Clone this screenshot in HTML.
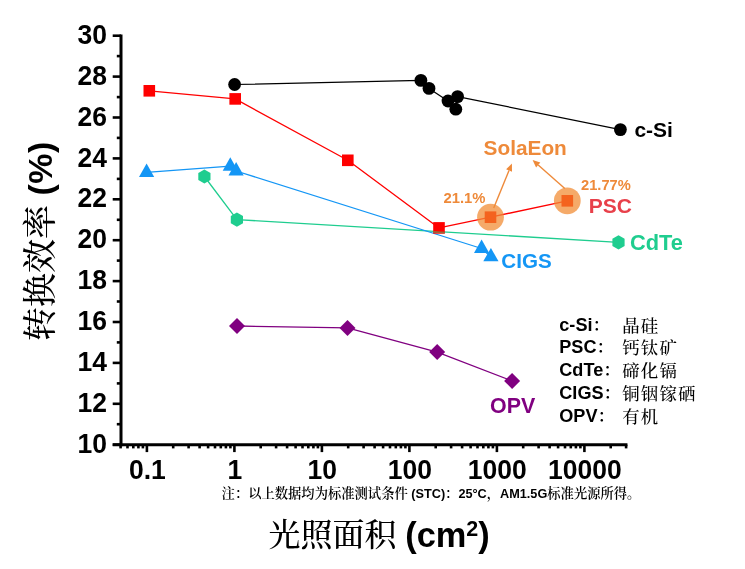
<!DOCTYPE html>
<html lang="zh"><head><meta charset="utf-8"><title>转换效率 - 光照面积</title>
<style>
html,body{margin:0;padding:0;background:#fff;}
body{width:745px;height:569px;overflow:hidden;position:relative;}
svg{position:absolute;left:0;top:0;display:block;}
text{font-family:"Liberation Sans","Noto Serif CJK SC",sans-serif;font-weight:bold;}
.cj{font-family:"Noto Serif CJK SC","Liberation Serif",serif;font-weight:400;}
.cjb{font-family:"Noto Serif CJK SC","Liberation Serif",serif;font-weight:600;}
.cjm{font-family:"Noto Serif CJK SC","Liberation Serif",serif;font-weight:500;}
.tk{font-size:26.5px;fill:#000;}
</style></head><body>
<svg width="745" height="569" viewBox="0 0 745 569">
<rect width="745" height="569" fill="#fff"/>

<g stroke="#000" stroke-width="3.0" fill="none" stroke-linecap="butt">
<path d="M121.0 34.400000000000006 V446.2"/>
<path d="M112.7 444.7 H627.4481097879705"/>
</g>
<g stroke="#000" stroke-width="2.6" fill="none">
<path d="M112.7 444.7 H121.0"/>
<path d="M116.8 424.2 H121.0"/>
<path d="M112.7 403.8 H121.0"/>
<path d="M116.8 383.4 H121.0"/>
<path d="M112.7 362.9 H121.0"/>
<path d="M116.8 342.4 H121.0"/>
<path d="M112.7 322.0 H121.0"/>
<path d="M116.8 301.5 H121.0"/>
<path d="M112.7 281.1 H121.0"/>
<path d="M116.8 260.6 H121.0"/>
<path d="M112.7 240.2 H121.0"/>
<path d="M116.8 219.8 H121.0"/>
<path d="M112.7 199.3 H121.0"/>
<path d="M116.8 178.9 H121.0"/>
<path d="M112.7 158.4 H121.0"/>
<path d="M116.8 137.9 H121.0"/>
<path d="M112.7 117.5 H121.0"/>
<path d="M116.8 97.1 H121.0"/>
<path d="M112.7 76.6 H121.0"/>
<path d="M116.8 56.1 H121.0"/>
<path d="M112.7 35.7 H121.0"/>
<path d="M120.6 444.7 V448.4"/>
<path d="M127.5 444.7 V448.4"/>
<path d="M133.3 444.7 V448.4"/>
<path d="M138.4 444.7 V448.4"/>
<path d="M142.9 444.7 V448.4"/>
<path d="M146.9 444.7 V452.1"/>
<path d="M173.2 444.7 V448.4"/>
<path d="M188.6 444.7 V448.4"/>
<path d="M199.6 444.7 V448.4"/>
<path d="M208.1 444.7 V448.4"/>
<path d="M215.0 444.7 V448.4"/>
<path d="M220.8 444.7 V448.4"/>
<path d="M225.9 444.7 V448.4"/>
<path d="M230.4 444.7 V448.4"/>
<path d="M234.4 444.7 V452.1"/>
<path d="M260.7 444.7 V448.4"/>
<path d="M276.1 444.7 V448.4"/>
<path d="M287.1 444.7 V448.4"/>
<path d="M295.6 444.7 V448.4"/>
<path d="M302.5 444.7 V448.4"/>
<path d="M308.3 444.7 V448.4"/>
<path d="M313.4 444.7 V448.4"/>
<path d="M317.9 444.7 V448.4"/>
<path d="M321.9 444.7 V452.1"/>
<path d="M348.2 444.7 V448.4"/>
<path d="M363.6 444.7 V448.4"/>
<path d="M374.6 444.7 V448.4"/>
<path d="M383.1 444.7 V448.4"/>
<path d="M390.0 444.7 V448.4"/>
<path d="M395.8 444.7 V448.4"/>
<path d="M400.9 444.7 V448.4"/>
<path d="M405.4 444.7 V448.4"/>
<path d="M409.4 444.7 V452.1"/>
<path d="M435.7 444.7 V448.4"/>
<path d="M451.1 444.7 V448.4"/>
<path d="M462.1 444.7 V448.4"/>
<path d="M470.6 444.7 V448.4"/>
<path d="M477.5 444.7 V448.4"/>
<path d="M483.3 444.7 V448.4"/>
<path d="M488.4 444.7 V448.4"/>
<path d="M492.9 444.7 V448.4"/>
<path d="M496.9 444.7 V452.1"/>
<path d="M523.2 444.7 V448.4"/>
<path d="M538.6 444.7 V448.4"/>
<path d="M549.6 444.7 V448.4"/>
<path d="M558.1 444.7 V448.4"/>
<path d="M565.0 444.7 V448.4"/>
<path d="M570.8 444.7 V448.4"/>
<path d="M575.9 444.7 V448.4"/>
<path d="M580.4 444.7 V448.4"/>
<path d="M584.4 444.7 V452.1"/>
<path d="M610.7 444.7 V448.4"/>
<path d="M626.1 444.7 V448.4"/>
</g>
<g class="tk" text-anchor="end">
<text class="tk" transform="translate(106.9 452.8) scale(1 1.075)">10</text>
<text class="tk" transform="translate(106.9 411.9) scale(1 1.075)">12</text>
<text class="tk" transform="translate(106.9 371.0) scale(1 1.075)">14</text>
<text class="tk" transform="translate(106.9 330.1) scale(1 1.075)">16</text>
<text class="tk" transform="translate(106.9 289.2) scale(1 1.075)">18</text>
<text class="tk" transform="translate(106.9 248.3) scale(1 1.075)">20</text>
<text class="tk" transform="translate(106.9 207.4) scale(1 1.075)">22</text>
<text class="tk" transform="translate(106.9 166.5) scale(1 1.075)">24</text>
<text class="tk" transform="translate(106.9 125.6) scale(1 1.075)">26</text>
<text class="tk" transform="translate(106.9 84.7) scale(1 1.075)">28</text>
<text class="tk" transform="translate(106.9 43.8) scale(1 1.075)">30</text>
</g>
<g class="tk" text-anchor="middle">
<text class="tk" transform="translate(147.3 479.1) scale(1 1.075)">0.1</text>
<text class="tk" transform="translate(234.8 479.1) scale(1 1.075)">1</text>
<text class="tk" transform="translate(322.3 479.1) scale(1 1.075)">10</text>
<text class="tk" transform="translate(409.8 479.1) scale(1 1.075)">100</text>
<text class="tk" transform="translate(497.3 479.1) scale(1 1.075)">1000</text>
<text class="tk" transform="translate(584.8 479.1) scale(1 1.075)">10000</text>
</g>
<path d="M204.4 176.5 L236.9 219.6 L618.5 242.3" stroke="#1fcd8f" stroke-width="1.3" fill="none" stroke-linejoin="round"/>
<polygon points="204.4,169.4 198.3,172.9 198.3,180.1 204.4,183.6 210.5,180.1 210.5,172.9" fill="#1fcd8f"/>
<polygon points="236.9,212.5 230.8,216.0 230.8,223.2 236.9,226.7 243.0,223.2 243.0,216.0" fill="#1fcd8f"/>
<polygon points="618.5,235.2 612.4,238.8 612.4,245.9 618.5,249.4 624.6,245.9 624.6,238.8" fill="#1fcd8f"/>
<path d="M146.6 172.4 L230.3 166.2 L236.1 171.0 L481.6 248.5 L490.9 256.8" stroke="#1496f5" stroke-width="1.3" fill="none" stroke-linejoin="round"/>
<polygon points="146.6,163.5 139.0,176.9 154.2,176.9" fill="#1496f5"/>
<polygon points="230.3,157.3 222.7,170.7 237.9,170.7" fill="#1496f5"/>
<polygon points="236.1,162.1 228.5,175.5 243.7,175.5" fill="#1496f5"/>
<polygon points="481.6,239.6 474.0,253.0 489.2,253.0" fill="#1496f5"/>
<polygon points="490.9,247.9 483.3,261.3 498.5,261.3" fill="#1496f5"/>
<path d="M237.0 326.0 L347.5 327.9 L437.2 352.1 L512.1 380.9" stroke="#800080" stroke-width="1.3" fill="none" stroke-linejoin="round"/>
<polygon points="237.0,318.0 245.0,326.0 237.0,334.0 229.0,326.0" fill="#800080"/>
<polygon points="347.5,319.9 355.5,327.9 347.5,335.9 339.5,327.9" fill="#800080"/>
<polygon points="437.2,344.1 445.2,352.1 437.2,360.1 429.2,352.1" fill="#800080"/>
<polygon points="512.1,372.9 520.1,380.9 512.1,388.9 504.1,380.9" fill="#800080"/>
<path d="M234.6 84.5 L420.9 80.4 L429.0 88.4 L448.0 101.0 L455.8 109.2 L457.6 96.6 L620.4 129.6" stroke="#000" stroke-width="1.25" fill="none" stroke-linejoin="round"/>
<circle cx="234.6" cy="84.5" r="6.4" fill="#000"/>
<circle cx="420.9" cy="80.4" r="6.4" fill="#000"/>
<circle cx="429" cy="88.4" r="6.4" fill="#000"/>
<circle cx="448" cy="101" r="6.4" fill="#000"/>
<circle cx="455.8" cy="109.2" r="6.4" fill="#000"/>
<circle cx="457.6" cy="96.6" r="6.4" fill="#000"/>
<circle cx="620.4" cy="129.6" r="6.4" fill="#000"/>
<path d="M149.3 90.8 L235.2 98.9 L347.8 160.3 L439.0 227.9 L490.5 217.2 L567.3 200.8" stroke="#ff0000" stroke-width="1.3" fill="none" stroke-linejoin="round"/>
<circle cx="490.5" cy="217.2" r="13.4" fill="#f28e37" fill-opacity="0.75"/>
<circle cx="567.3" cy="200.8" r="13.4" fill="#f28e37" fill-opacity="0.75"/>
<rect x="143.5" y="85.0" width="11.6" height="11.6" fill="#ff0000"/>
<rect x="229.4" y="93.1" width="11.6" height="11.6" fill="#ff0000"/>
<rect x="342.0" y="154.5" width="11.6" height="11.6" fill="#ff0000"/>
<rect x="433.2" y="222.1" width="11.6" height="11.6" fill="#ff0000"/>
<rect x="484.7" y="211.4" width="11.6" height="11.6" fill="#f4631e"/>
<rect x="561.5" y="195.0" width="11.6" height="11.6" fill="#f4631e"/>
<path d="M493.7 207.9 L509.0 170.5" stroke="#ee8a3a" stroke-width="1.4" fill="none"/>
<polygon points="511.9,163.6 512.0,171.8 506.1,169.3" fill="#ee8a3a"/>
<path d="M564.8 188.5 L538.2 165.0" stroke="#ee8a3a" stroke-width="1.4" fill="none"/>
<polygon points="532.6,160.0 540.3,162.6 536.1,167.4" fill="#ee8a3a"/>
<text x="634.4" y="137.3" font-size="21" fill="#000">c-Si</text>
<text x="483.6" y="154.7" font-size="20.8" fill="#ee8a3a">SolaEon</text>
<text x="443.5" y="203" font-size="14.8" fill="#ee8a3a">21.1%</text>
<text x="581" y="189.6" font-size="14.7" fill="#ee8a3a">21.77%</text>
<text x="588.8" y="212.6" font-size="21" fill="#e8404a">PSC</text>
<text x="630.0" y="249.6" font-size="21.8" fill="#1fcd8f">CdTe</text>
<text x="501.3" y="268.3" font-size="20.6" fill="#1496f5">CIGS</text>
<text x="490.0" y="413.1" font-size="21.4" fill="#800080">OPV</text>
<path d="M433.2 231.9 L444.8 232.6" stroke="#9a6a3a" stroke-width="1.8" fill="none"/>
<text x="559.3" y="330.7" font-size="18.1" fill="#000">c-Si<tspan class="cjb" font-size="17">：</tspan></text>
<text class="cjm" x="622.3" y="331.7" font-size="17.4" letter-spacing="1.15" fill="#000">晶硅</text>
<text x="559.3" y="352.9" font-size="18.1" fill="#000">PSC<tspan class="cjb" font-size="17">：</tspan></text>
<text class="cjm" x="622.3" y="353.9" font-size="17.4" letter-spacing="1.15" fill="#000">钙钛矿</text>
<text x="559.3" y="375.7" font-size="18.1" fill="#000">CdTe<tspan class="cjb" font-size="17">：</tspan></text>
<text class="cjm" x="622.3" y="376.7" font-size="17.4" letter-spacing="1.15" fill="#000">碲化镉</text>
<text x="559.3" y="399.0" font-size="18.1" fill="#000">CIGS<tspan class="cjb" font-size="17">：</tspan></text>
<text class="cjm" x="622.3" y="400.0" font-size="17.4" letter-spacing="1.15" fill="#000">铜铟镓硒</text>
<text x="559.3" y="422.2" font-size="18.1" fill="#000">OPV<tspan class="cjb" font-size="17">：</tspan></text>
<text class="cjm" x="622.3" y="423.2" font-size="17.4" letter-spacing="1.15" fill="#000">有机</text>
<text x="221.6" y="497.6" font-size="12.7" fill="#000"><tspan class="cjb" font-size="13.3">注：以上数据均为标准测试条件</tspan> (STC)<tspan class="cjb" font-size="13.3">：</tspan>25°C<tspan class="cjb" font-size="13.3">，</tspan>AM1.5G<tspan class="cjb" font-size="13.3">标准光源所得。</tspan></text>
<text class="cjm" x="268.6" y="546.3" font-size="32" fill="#000">光照面积</text>
<text x="405.2" y="546.6" font-size="34.4" fill="#000">(cm<tspan font-size="21.5" dy="-10.6">2</tspan><tspan dy="10.6">)</tspan></text>
<text class="cjm" transform="translate(52 341) rotate(-90)" font-size="34" fill="#000">转换效率</text>
<text transform="translate(52 195.4) rotate(-90)" font-size="34" letter-spacing="0.4" fill="#000">(%)</text>
</svg></body></html>
